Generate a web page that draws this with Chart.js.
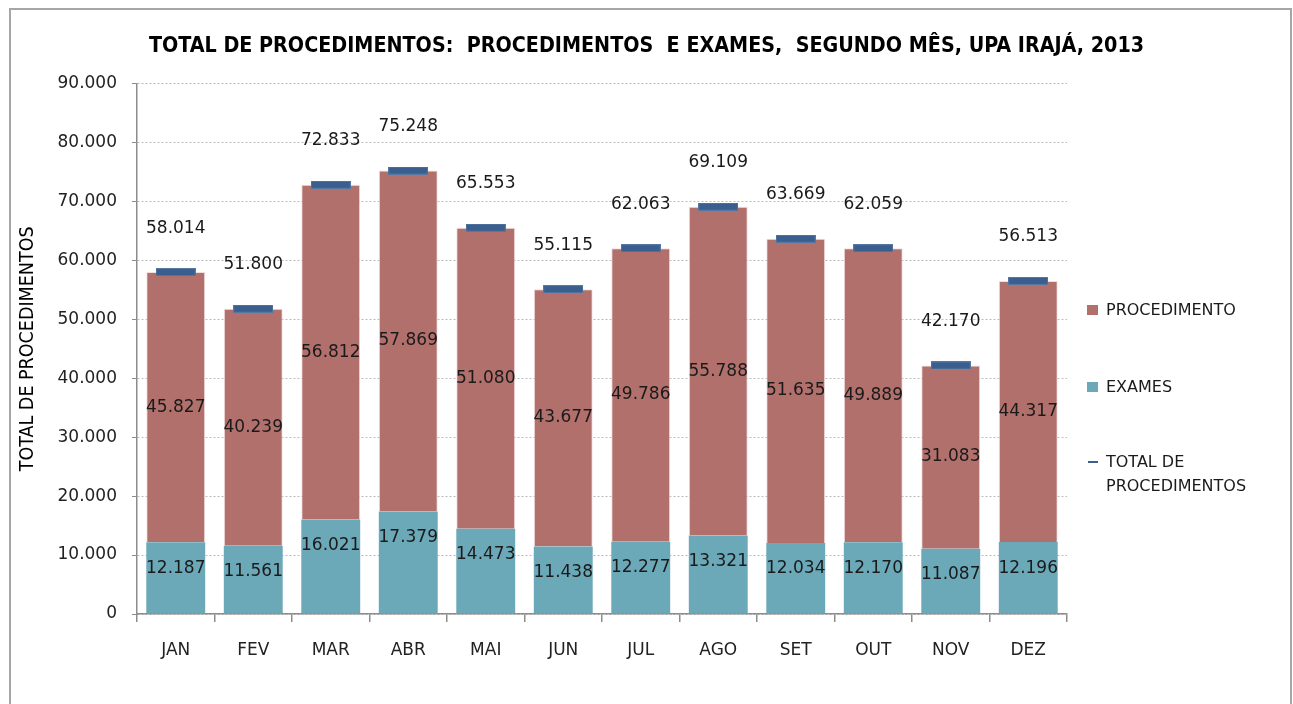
<!DOCTYPE html>
<html>
<head>
<meta charset="utf-8">
<script src="https://cdn.jsdelivr.net/npm/chart.js@4"></script>
<style>
    body { margin: 0; background: #fff; }
    #wrap { position: relative; width: 1293px; height: 704px; overflow: hidden; }
    #frame {
        position: absolute; left: 9px; top: 8px; width: 1279px; height: 720px;
        border: 2px solid #a6a6a6; border-bottom: none;
    }
    #chart { position: absolute; left: 0; top: 0; }
    .legend {
        position: absolute; left: 1087px; font-family: "DejaVu Sans", sans-serif;
        font-size: 16px; color: #1a1a1a; line-height: 24px;
    }
    .legend .box { position: absolute; left: 0; top: 7px; width: 11px; height: 10px; }
    .legend .dash { position: absolute; left: 1px; top: 11px; width: 10px; height: 2px; }
    .legend .txt { position: absolute; left: 19px; white-space: nowrap; }
</style>
</head>
<body>
<div id="wrap">
    <div id="frame"></div>
    <canvas id="chart" width="1293" height="704"></canvas>
    <div class="legend" style="top:298px"><span class="box" style="background:#b1706c"></span><span class="txt">PROCEDIMENTO</span></div>
    <div class="legend" style="top:375px"><span class="box" style="background:#6ba8b8"></span><span class="txt">EXAMES</span></div>
    <div class="legend" style="top:450px"><span class="dash" style="background:#3a5f8e"></span><span class="txt">TOTAL DE<br>PROCEDIMENTOS</span></div>
</div>
<script>
const months = ['JAN', 'FEV', 'MAR', 'ABR', 'MAI', 'JUN', 'JUL', 'AGO', 'SET', 'OUT', 'NOV', 'DEZ'];
const exames = [12187, 11561, 16021, 17379, 14473, 11438, 12277, 13321, 12034, 12170, 11087, 12196];
const procedimento = [45827, 40239, 56812, 57869, 51080, 43677, 49786, 55788, 51635, 49889, 31083, 44317];
const totalProc = [58014, 51800, 72833, 75248, 65553, 55115, 62063, 69109, 63669, 62059, 42170, 56513];

const colProc = '#b1706c';
const colExames = '#6ba8b8';
const colTotal = '#3a5f8e';

// little dash used as point marker for the total
const marker = document.createElement('canvas');
marker.width = 40;
marker.height = 8;
const mctx = marker.getContext('2d');
mctx.fillStyle = '#5577a0';
mctx.fillRect(0, 0, 40, 8);
mctx.fillStyle = colTotal;
mctx.fillRect(1, 1, 38, 6);

const fmt = v => v.toLocaleString('pt-BR');

const valueLabels = {
    id: 'valueLabels',
    afterDatasetsDraw(chart) {
        const ctx = chart.ctx;
        ctx.save();
        ctx.font = '17px "DejaVu Sans", sans-serif';
        ctx.fillStyle = '#1a1a1a';
        ctx.textAlign = 'center';
        ctx.textBaseline = 'middle';
        const mEx = chart.getDatasetMeta(0);
        const mPr = chart.getDatasetMeta(1);
        const mTot = chart.getDatasetMeta(2);
        months.forEach((m, i) => {
            const e = mEx.data[i];
            ctx.fillText(fmt(exames[i]), e.x, e.y + 26);
            const p = mPr.data[i];
            ctx.fillText(fmt(procedimento[i]), p.x, (p.y + p.base) / 2);
            const t = mTot.data[i];
            ctx.fillText(fmt(totalProc[i]), t.x, t.y - 44);
        });
        ctx.restore();
    }
};

new Chart(document.getElementById('chart'), {
    type: 'bar',
    data: {
        labels: months,
        datasets: [
            {
                label: 'EXAMES',
                data: exames,
                backgroundColor: colExames,
                borderWidth: 0,
                barPercentage: 0.76,
                categoryPercentage: 1,
                order: 1
            },
            {
                label: 'PROCEDIMENTO',
                data: procedimento,
                backgroundColor: colProc,
                borderColor: 'rgba(235,200,200,0.6)',
                borderWidth: 1,
                barPercentage: 0.76,
                categoryPercentage: 1,
                order: 1
            },
            {
                type: 'line',
                label: 'TOTAL DE PROCEDIMENTOS',
                data: totalProc,
                stack: 'total',
                showLine: false,
                pointStyle: marker,
                order: 0
            }
        ]
    },
    plugins: [valueLabels],
    options: {
        responsive: false,
        animation: false,
        events: [],
        layout: { padding: 0 },
        plugins: {
            legend: { display: false },
            tooltip: { enabled: false },
            title: {
                display: true,
                text: 'TOTAL DE PROCEDIMENTOS:  PROCEDIMENTOS  E EXAMES,  SEGUNDO MÊS, UPA IRAJÁ, 2013',
                color: '#000',
                font: { family: '"Liberation Sans Narrow", "DejaVu Sans Condensed", sans-serif', size: 21.3, weight: 'bold' },
                padding: { top: 34, bottom: 24 }
            }
        },
        scales: {
            x: {
                stacked: true,
                afterFit: s => { s.height = 90; },
                grid: { drawOnChartArea: false, offset: true, tickLength: 8, color: '#8c8c8c', lineWidth: 1.5 },
                border: { color: '#8c8c8c', width: 1.5 },
                ticks: { color: '#222', padding: 18, font: { family: '"DejaVu Sans", sans-serif', size: 17 } }
            },
            y: {
                stacked: true,
                min: 0,
                max: 90000,
                afterFit: s => { s.width = 137; },
                grid: { color: '#bcbcbc', tickColor: '#8c8c8c', tickLength: 5, tickBorderDash: [] },
                border: { color: '#8c8c8c', width: 1.5, dash: [2, 2] },
                ticks: {
                    stepSize: 10000,
                    color: '#222',
                    padding: 15,
                    font: { family: '"DejaVu Sans", sans-serif', size: 17 },
                    callback: v => fmt(v)
                },
                title: {
                    display: true,
                    text: 'TOTAL DE PROCEDIMENTOS',
                    color: '#000',
                    padding: { top: 16, bottom: 0 },
                    font: { family: '"Liberation Sans Narrow", "DejaVu Sans Condensed", sans-serif', size: 19.5 }
                }
            },
            // empty axis that reserves the space of the legend on the right
            legendSpace: {
                position: 'right',
                afterFit: s => { s.width = 226; },
                grid: { display: false },
                border: { display: false },
                ticks: { display: false }
            }
        }
    }
});
</script>
</body>
</html>
